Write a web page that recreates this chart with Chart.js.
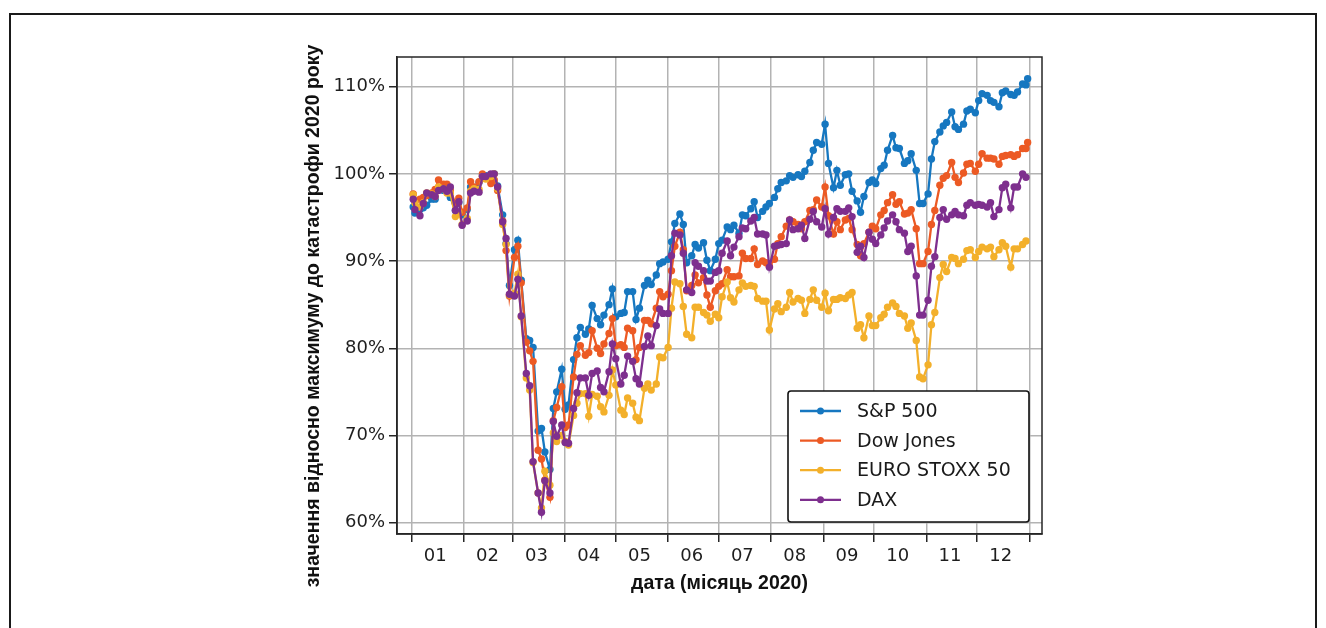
<!DOCTYPE html>
<html>
<head>
<meta charset="utf-8">
<script src="https://cdn.jsdelivr.net/npm/chart.js@4.4.1/dist/chart.umd.min.js"></script>
<style>
  body { margin: 0; background: #fff; }
  #wrap { position: relative; width: 1326px; height: 628px; overflow: hidden; }
  #frame { position: absolute; left: 9px; top: 13px; width: 1304px; height: 700px; border: 2px solid #1a1a1a; pointer-events: none; }
  canvas { position: absolute; left: 0; top: 0; }
</style>
</head>
<body>
<div id="wrap">
  <canvas id="chart" width="1326" height="628"></canvas>
  <div id="frame"></div>
</div>
<script>
// day of year 2020 (0 = 1 Jan), roughly Mon/Wed/Fri
const days = [
  1, 2, 5, 7, 9, 12, 14, 16, 19, 21, 23, 26, 28, 30,
  33, 35, 37, 40, 42, 44, 47, 49, 51, 54, 56, 58,
  61, 63, 65, 68, 70, 72, 75, 77, 79, 82, 84, 86, 89,
  91, 93, 96, 98, 100, 103, 105, 107, 110, 112, 114, 117, 119,
  121, 124, 126, 128, 131, 133, 135, 138, 140, 142, 145, 147, 149,
  152, 154, 156, 159, 161, 163, 166, 168, 170, 173, 175, 177, 180,
  182, 184, 187, 189, 191, 194, 196, 198, 201, 203, 205, 208, 210, 212,
  215, 217, 219, 222, 224, 226, 229, 231, 233, 236, 238, 240, 243,
  245, 247, 250, 252, 254, 257, 259, 261, 264, 266, 268, 271, 273,
  275, 278, 280, 282, 285, 287, 289, 292, 294, 296, 299, 301, 303,
  306, 308, 310, 313, 315, 317, 320, 322, 324, 327, 329, 331, 334,
  336, 338, 341, 343, 345, 348, 350, 352, 355, 357, 359, 362, 364, 365
];

// % of pre-crash maximum
const sp500 = [
  96.2, 95.5, 95.9, 96.1, 96.4, 97.1, 97.1, 98.3, 98.1, 98.1, 97.3, 95.8, 96.7, 95.3,
  95.9, 98.5, 98.3, 99.0, 99.8, 99.8, 99.5, 100.0, 98.6, 95.3, 92.0, 87.2,
  91.3, 92.4, 87.8, 81.1, 80.9, 80.1, 70.5, 70.8, 68.1, 66.1, 73.1, 75.0, 77.6,
  73.0, 73.5, 78.7, 81.2, 82.4, 81.6, 82.2, 84.9, 83.4, 82.7, 83.8, 85.0, 86.8,
  83.6, 84.0, 84.1, 86.5, 86.5, 83.3, 84.6, 87.2, 87.8, 87.3, 88.4, 89.7, 89.9,
  90.2, 92.2, 94.3, 95.4, 94.2, 89.8, 90.6, 91.9, 91.5, 92.1, 90.1, 88.9, 90.2,
  92.0, 92.4, 93.9, 93.6, 94.1, 93.2, 95.3, 95.2, 96.0, 96.8, 95.0, 95.7, 96.2, 96.6,
  97.3, 98.3, 99.0, 99.2, 99.8, 99.6, 99.9, 99.7, 100.3, 101.3, 102.7, 103.6, 103.4,
  105.7, 101.2, 98.4, 100.4, 98.7, 99.9, 100.0, 98.0, 96.9, 95.6, 97.4, 99.0, 99.3,
  98.9, 100.6, 101.0, 102.7, 104.4, 103.0, 102.9, 101.2, 101.5, 102.3, 100.4, 96.6, 96.6,
  97.7, 101.7, 103.7, 104.8, 105.5, 105.9, 107.1, 105.4, 105.1, 105.7, 107.2, 107.4, 107.0,
  108.4, 109.2, 109.0, 108.4, 108.2, 107.7, 109.3, 109.5, 109.1, 109.0, 109.4, 110.3, 110.2, 110.9
];
const dow = [
  97.7, 96.9, 97.1, 97.3, 97.5, 97.8, 98.2, 99.3, 98.8, 98.8, 98.1, 96.6, 97.2, 95.6,
  96.1, 99.1, 98.5, 99.1, 100.0, 99.5, 98.9, 99.3, 98.1, 94.6, 91.2, 86.0,
  90.4, 91.7, 87.5, 80.7, 79.7, 78.5, 68.3, 67.3, 64.9, 62.9, 71.7, 73.2, 75.6,
  70.9, 71.2, 76.7, 79.3, 80.3, 79.2, 79.5, 82.0, 80.0, 79.4, 80.5, 81.7, 83.4,
  80.3, 80.4, 80.1, 82.3, 82.0, 78.7, 80.1, 83.2, 83.2, 82.8, 84.6, 86.5, 85.9,
  86.2, 88.9, 91.7, 93.3, 91.3, 86.6, 87.2, 88.4, 87.5, 88.1, 86.1, 84.7, 86.6,
  87.1, 87.4, 89.0, 88.2, 88.2, 88.3, 90.9, 90.3, 90.3, 91.4, 89.6, 90.0, 89.8, 89.4,
  90.2, 92.0, 92.8, 94.0, 94.7, 94.5, 94.2, 93.7, 94.5, 95.8, 95.9, 97.0, 96.2,
  98.5, 95.2, 93.1, 94.5, 93.6, 94.7, 94.9, 93.6, 91.9, 90.6, 92.0, 93.3, 94.0,
  93.7, 95.3, 95.8, 96.7, 97.6, 96.5, 96.8, 95.4, 95.5, 95.9, 93.7, 89.7, 89.7,
  91.1, 94.2, 95.8, 98.7, 99.5, 99.8, 101.3, 99.6, 99.0, 100.1, 101.1, 101.2, 100.3,
  101.1, 102.3, 101.8, 101.8, 101.7, 101.1, 102.0, 102.1, 102.2, 102.0, 102.2, 102.9, 102.9, 103.6
];
const stoxx = [
  97.6, 96.7, 96.2, 96.7, 97.8, 97.7, 97.4, 98.5, 98.3, 97.8, 97.8, 95.1, 95.6, 94.2,
  94.9, 98.0, 98.3, 98.2, 99.7, 99.4, 99.7, 100.0, 98.3, 94.2, 91.9, 86.1,
  86.3, 88.5, 83.6, 76.6, 75.2, 66.9, 63.4, 61.7, 65.9, 64.3, 70.3, 69.3, 70.0,
  69.3, 68.9, 72.3, 73.7, 74.8, 74.8, 72.2, 74.7, 74.5, 73.3, 72.7, 74.6, 77.5,
  75.8, 72.9, 72.4, 74.3, 73.7, 72.1, 71.7, 75.4, 75.9, 75.2, 75.9, 79.0, 78.9,
  80.1, 84.6, 87.6, 87.4, 84.8, 81.6, 81.2, 84.7, 84.7, 84.1, 83.8, 83.1, 83.9,
  83.5, 85.9, 87.6, 85.8, 85.3, 86.7, 87.5, 87.1, 87.2, 87.1, 85.7, 85.4, 85.4, 82.1,
  84.5, 85.1, 84.2, 84.7, 86.4, 85.3, 85.7, 85.5, 84.0, 85.6, 86.7, 85.5, 84.7,
  86.3, 84.3, 85.6, 85.6, 85.8, 85.7, 86.1, 86.4, 82.3, 82.7, 81.2, 83.7, 82.6,
  82.6, 83.5, 83.9, 84.7, 85.2, 84.8, 84.0, 83.7, 82.3, 82.9, 80.9, 76.7, 76.5,
  78.1, 82.7, 84.1, 88.1, 89.6, 88.8, 90.4, 90.3, 89.7, 90.2, 91.2, 91.3, 90.4,
  91.1, 91.6, 91.4, 91.6, 90.5, 91.3, 92.1, 91.7, 89.3, 91.4, 91.4, 91.9, 92.3, null
];
const dax = [
  97.1, 95.9, 95.2, 96.6, 97.8, 97.6, 97.4, 98.1, 98.3, 98.0, 98.5, 95.8, 96.8, 94.1,
  94.6, 97.8, 98.0, 97.9, 99.7, 99.7, 100.0, 100.0, 98.5, 94.5, 92.6, 86.2,
  86.0, 87.9, 83.7, 77.1, 75.7, 67.0, 63.4, 61.2, 64.8, 63.4, 71.6, 69.9, 71.2,
  69.2, 69.1, 73.1, 74.9, 76.6, 76.6, 74.6, 77.1, 77.4, 75.5, 75.0, 77.3, 80.5,
  78.8, 75.9, 76.9, 79.1, 78.5, 76.5, 75.9, 80.2, 81.4, 80.3, 82.6, 84.5, 84.0,
  84.0, 90.6, 93.2, 93.0, 90.9, 86.7, 86.4, 89.8, 89.4, 88.9, 87.7, 87.7, 88.7,
  88.9, 90.9, 92.3, 90.6, 91.6, 92.8, 93.8, 93.7, 94.6, 95.0, 93.1, 93.1, 93.0, 89.3,
  91.7, 91.8, 91.9, 92.0, 94.7, 93.6, 93.7, 94.1, 92.6, 94.8, 95.7, 94.5, 93.9,
  96.0, 93.1, 95.0, 96.0, 95.7, 95.7, 96.1, 95.1, 91.0, 91.7, 90.4, 93.3, 92.5,
  92.0, 93.0, 93.8, 94.6, 95.3, 94.5, 93.6, 93.2, 91.1, 91.7, 88.3, 83.8, 83.8,
  85.5, 89.4, 90.5, 95.0, 95.9, 94.8, 95.3, 95.7, 95.3, 95.2, 96.4, 96.7, 96.4,
  96.5, 96.4, 96.2, 96.7, 95.1, 95.9, 98.4, 98.8, 96.1, 98.5, 98.5, 100.0, 99.6, null
];

const seriesNames = ['S&P 500', 'Dow Jones', 'EURO STOXX 50', 'DAX'];
const seriesColors = ['#1677c0', '#ec5a24', '#f3b02b', '#7e2f8e'];

const monthStarts = [0, 31, 60, 91, 121, 152, 182, 213, 244, 274, 305, 335, 366];
const monthMids = [14, 45, 74, 105, 135, 166, 196, 227, 258, 288, 319, 349];
const monthLabels = ['01', '02', '03', '04', '05', '06', '07', '08', '09', '10', '11', '12'];
const yTicks = [60, 70, 80, 90, 100, 110];

const yTitle = 'значення відносно максимуму до катастрофи 2020 року';
const xTitle = 'дата (місяць 2020)';

function toPoints(vals) {
  return days.map((d, i) => ({ x: d, y: vals[i] }));
}

const allSeries = [sp500, dow, stoxx, dax];
const datasets = allSeries.map((vals, i) => ({
  label: seriesNames[i],
  data: toPoints(vals),
  borderColor: seriesColors[i],
  backgroundColor: seriesColors[i],
  borderWidth: 2.3,
  pointRadius: 3.7,
  pointBorderWidth: 0,
  pointHoverRadius: 3.7,
  order: 4 - i,   // DAX on top like the original
  spanGaps: false
}));

const GRID = '#b3b3b3';
const AXIS = '#262626';

// spines on all four sides
const frameBox = {
  id: 'frameBox',
  afterDatasetsDraw(chart) {
    const { ctx, chartArea: a } = chart;
    ctx.save();
    ctx.strokeStyle = AXIS;
    ctx.lineWidth = 1.5;
    ctx.strokeRect(a.left, a.top, a.right - a.left, a.bottom - a.top);
    ctx.restore();
  }
};

// y title sits a bit lower than the axis centre in the original
const yTitlePlugin = {
  id: 'yTitlePlugin',
  afterDraw(chart) {
    const { ctx } = chart;
    ctx.save();
    ctx.translate(314, 316);
    ctx.rotate(-Math.PI / 2);
    ctx.font = 'bold 19.5px "Liberation Sans"';
    ctx.fillStyle = '#111';
    ctx.textAlign = 'center';
    ctx.textBaseline = 'middle';
    ctx.fillText(yTitle, 0, 0);
    ctx.restore();
  }
};

// matplotlib style legend in the lower right corner
const boxLegend = {
  id: 'boxLegend',
  afterDraw(chart) {
    const { ctx, chartArea: a } = chart;
    const w = 241, h = 131;
    const x0 = a.right - 13 - w, y0 = a.bottom - 12 - h;
    ctx.save();
    ctx.beginPath();
    ctx.roundRect(x0, y0, w, h, 3);
    ctx.fillStyle = '#fff';
    ctx.fill();
    ctx.strokeStyle = '#111';
    ctx.lineWidth = 1.6;
    ctx.stroke();
    ctx.font = '19px "DejaVu Sans"';
    ctx.textBaseline = 'middle';
    chart.data.datasets.forEach((ds, i) => {
      const y = y0 + 20 + i * 29.6;
      ctx.strokeStyle = ds.borderColor;
      ctx.lineWidth = 2.3;
      ctx.beginPath();
      ctx.moveTo(x0 + 12, y);
      ctx.lineTo(x0 + 53, y);
      ctx.stroke();
      ctx.fillStyle = ds.borderColor;
      ctx.beginPath();
      ctx.arc(x0 + 32.5, y, 3.5, 0, Math.PI * 2);
      ctx.fill();
      ctx.fillStyle = '#1a1a1a';
      ctx.fillText(ds.label, x0 + 69, y + 1);
    });
    ctx.restore();
  }
};

const config = {
  type: 'line',
  data: { datasets: datasets },
  options: {
    responsive: false,
    animation: false,
    layout: { padding: { left: 298, top: 57, right: 284, bottom: 29 } },
    scales: {
      x: {
        type: 'linear',
        min: -8.6,
        max: 373.5,
        afterBuildTicks: (scale) => {
          const vals = monthStarts.concat(monthMids).sort((a, b) => a - b);
          scale.ticks = vals.map(v => ({ value: v }));
        },
        afterFit: (scale) => { scale.height = 65; },
        grid: {
          color: (c) => monthStarts.includes(c.tick && c.tick.value) ? GRID : 'rgba(0,0,0,0)',
          lineWidth: 1.5,
          tickLength: 8,
          tickColor: (c) => monthStarts.includes(c.tick && c.tick.value) ? AXIS : 'rgba(0,0,0,0)',
          tickWidth: 1.5
        },
        border: { color: AXIS, width: 1.5 },
        ticks: {
          autoSkip: false,
          maxRotation: 0,
          padding: 4,
          color: '#1e1e1e',
          font: { family: 'DejaVu Sans', size: 18 },
          callback: (v) => {
            const i = monthMids.indexOf(v);
            return i >= 0 ? monthLabels[i] : '';
          }
        },
        title: {
          display: true,
          text: xTitle,
          color: '#111',
          font: { family: 'Liberation Sans', weight: 'bold', size: 19.5 },
          padding: { top: 4, bottom: 4 }
        }
      },
      y: {
        min: 58.7,
        max: 113.4,
        afterBuildTicks: (scale) => {
          scale.ticks = yTicks.map(v => ({ value: v }));
        },
        afterFit: (scale) => { scale.width = 99; },
        grid: {
          color: GRID,
          lineWidth: 1.5,
          tickLength: 8,
          tickColor: AXIS,
          tickWidth: 1.5
        },
        border: { color: AXIS, width: 1.5 },
        ticks: {
          padding: 4,
          color: '#1e1e1e',
          font: { family: 'DejaVu Sans', size: 18 },
          callback: (v) => v + '%'
        },
        title: { display: false, text: yTitle }
      }
    },
    plugins: {
      legend: { display: false },
      tooltip: { enabled: false }
    }
  },
  plugins: [frameBox, yTitlePlugin, boxLegend]
};

new Chart(document.getElementById('chart'), config);
</script>
</body>
</html>
